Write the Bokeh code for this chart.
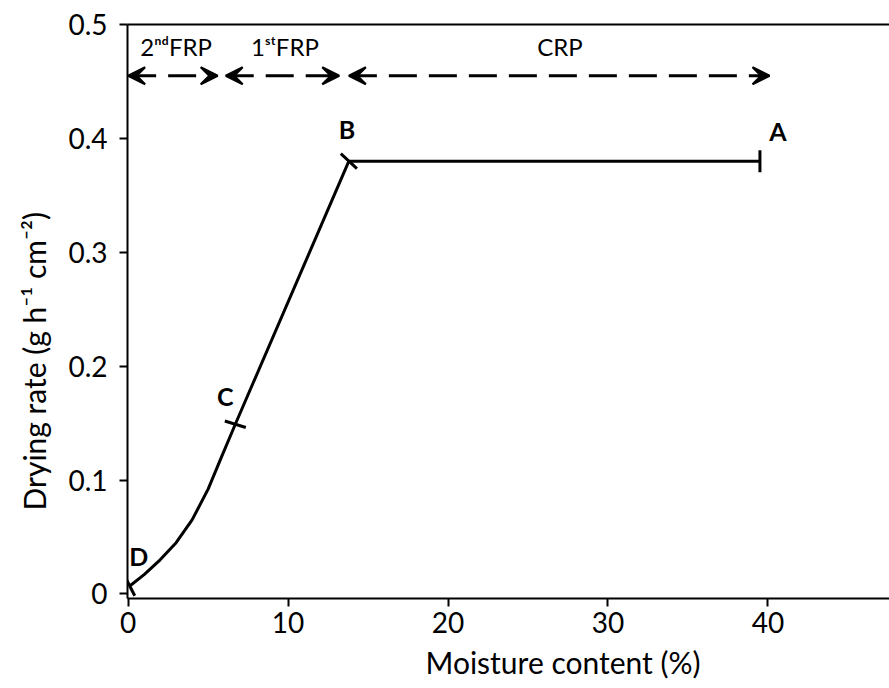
from bokeh.plotting import figure
from bokeh.models import Range1d, LinearAxis, FixedTicker, Arrow, VeeHead, ColumnDataSource, Title
from bokeh.core.properties import value
from bokeh.embed import file_html
from bokeh.resources import INLINE

# ---- data ----
moisture = [0.1, 1.0, 2.0, 3.0, 4.0, 5.0, 5.8, 6.7, 13.8, 39.5]
drying_rate = [0.007, 0.017, 0.030, 0.045, 0.065, 0.092, 0.119, 0.149, 0.38, 0.38]

point_names = ["A", "B", "C", "D"]
point_x = [39.5, 13.8, 6.7, 0.1]
point_y = [0.38, 0.38, 0.149, 0.007]
point_tick_angle = [1.5708, -0.75, -0.3, -1.1]
point_label_dx = [18, -2, -10, 9]
point_label_dy = [-30, -32, -28, -30]

phase_names = ["2ⁿᵈFRP", "1ˢᵗFRP", "CRP"]
phase_start = [0.0, 6.1, 13.8]
phase_end = [5.6, 13.2, 40.1]
phase_label_x = [3.0, 9.8, 27.0]
phase_arrow_y = 0.455
phase_label_y = 0.481

x_ticks = [0, 10, 20, 30, 40]
y_ticks = [0, 0.1, 0.2, 0.3, 0.4, 0.5]

x_title = "Moisture content (%)"
y_title = "Drying rate (g h⁻¹ cm⁻²)"

FONT = "Lato"
TICK_SIZE = "28px"
TITLE_SIZE = "30px"

p = figure(width=889, height=688, output_backend="svg", toolbar_location=None,
           x_range=Range1d(-0.04, 47.6), y_range=Range1d(-0.004, 0.5),
           min_border_left=127, min_border_right=0, min_border_top=24, min_border_bottom=90)
p.xgrid.visible = False
p.ygrid.visible = False
p.outline_line_color = None
p.background_fill_color = "white"

for ax in (p.xaxis[0], p.yaxis[0]):
    ax.axis_line_width = 2
    ax.axis_line_color = "black"
    ax.major_tick_line_width = 2
    ax.major_tick_line_color = "black"
    ax.major_tick_out = 8
    ax.major_tick_in = 0
    ax.minor_tick_line_color = None
    ax.major_label_text_font = FONT
    ax.major_label_text_font_size = TICK_SIZE
    ax.major_label_text_color = "black"

p.xaxis[0].ticker = FixedTicker(ticks=x_ticks)
p.yaxis[0].ticker = FixedTicker(ticks=y_ticks)
p.yaxis[0].major_label_overrides = {0: "0"}
p.xaxis[0].major_label_standoff = 5
p.yaxis[0].major_label_standoff = 12

# axis titles (placed off-centre along the axis as in the original)
p.add_layout(Title(text=x_title, align="left", offset=298, standoff=13,
                   text_font=FONT, text_font_size=TITLE_SIZE, text_font_style="normal",
                   text_color="black"), "below")
p.add_layout(Title(text=y_title, align="left", offset=88, standoff=27,
                   text_font=FONT, text_font_size=TITLE_SIZE, text_font_style="normal",
                   text_color="black"), "left")

top = LinearAxis(ticker=FixedTicker(ticks=[]), axis_line_width=2, axis_line_color="black",
                 major_tick_line_color=None, minor_tick_line_color=None,
                 major_label_text_font_size="0px")
p.add_layout(top, "above")

# curve
p.line(moisture, drying_rate, line_width=3, line_color="black", line_join="round")

# point ticks and labels
pts = ColumnDataSource(dict(x=point_x, y=point_y, name=point_names, ang=point_tick_angle,
                            dx=point_label_dx, dy=point_label_dy))
p.scatter(x="x", y="y", angle="ang", source=pts, marker="dash", size=22,
          line_width=3, line_color="black")
p.text(x="x", y="y", text="name", x_offset="dx", y_offset="dy", source=pts,
       text_font=value(FONT), text_font_style="bold", text_font_size="25px",
       text_align="center", text_baseline="middle", text_color="black")

# phase arrows
ph = ColumnDataSource(dict(x0=phase_start, x1=phase_end, y=[phase_arrow_y] * len(phase_start),
                           lx=phase_label_x, ly=[phase_label_y] * len(phase_start), name=phase_names))
head = dict(size=17, fill_color="black", line_color="black", line_width=2)
p.add_layout(Arrow(start=VeeHead(**head), end=VeeHead(**head),
                   x_start="x0", y_start="y", x_end="x1", y_end="y", source=ph,
                   line_width=3, line_color="black", line_dash="28 12"))
p.text(x="lx", y="ly", text="name", source=ph, text_font=value(FONT), text_font_size="24px",
       text_align="center", text_baseline="middle", text_color="black")

open("out.html", "w").write(file_html(p, INLINE))
